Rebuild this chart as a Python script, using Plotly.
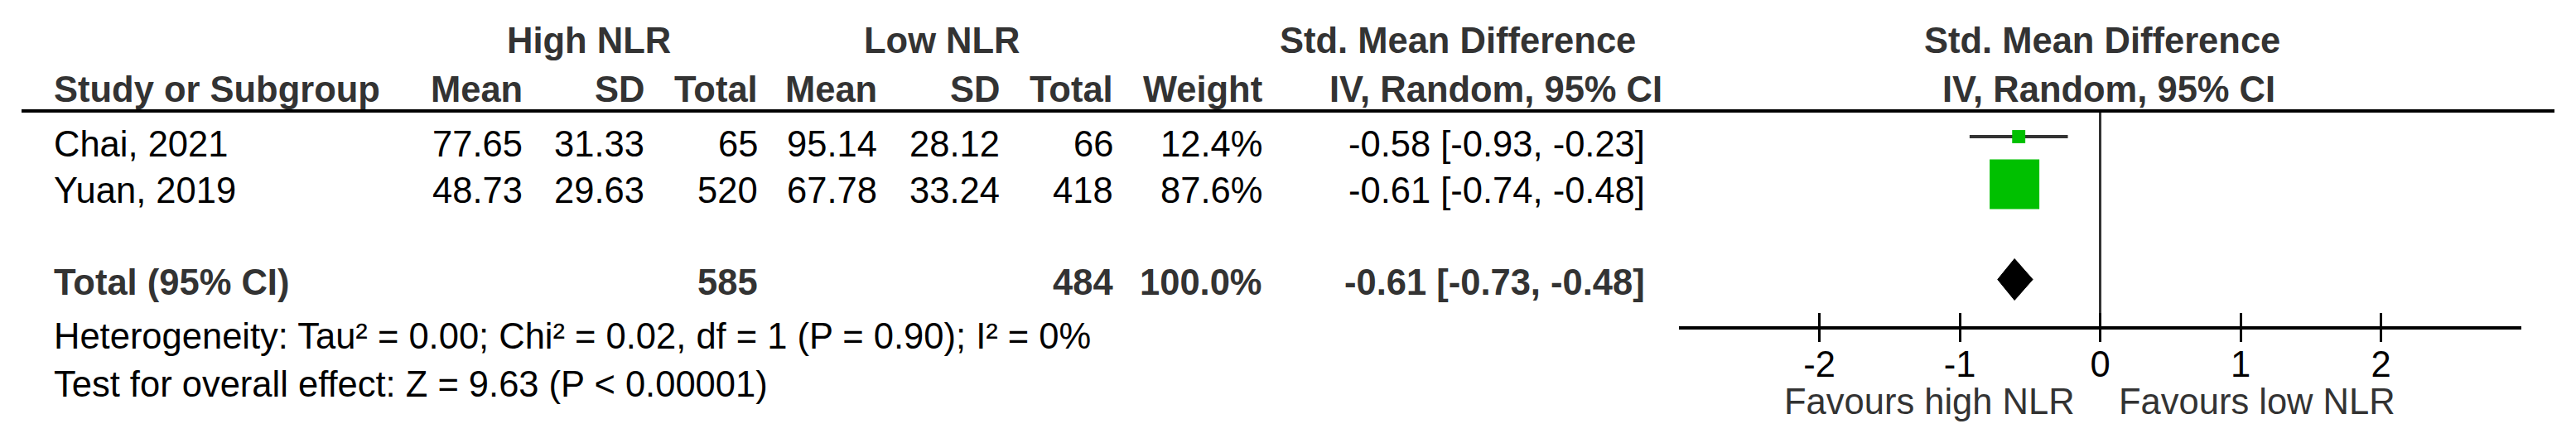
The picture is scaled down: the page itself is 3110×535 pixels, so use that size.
import plotly.graph_objects as go

# ---------------- data ----------------
studies = ["Chai, 2021", "Yuan, 2019"]
high_mean = [77.65, 48.73]
high_sd = [31.33, 29.63]
high_n = [65, 520]
low_mean = [95.14, 67.78]
low_sd = [28.12, 33.24]
low_n = [66, 418]
weights = [12.4, 87.6]
smd = [-0.58, -0.61]
ci_lo = [-0.93, -0.74]
ci_hi = [-0.23, -0.48]

total_high_n = 585
total_low_n = 484
total_weight = 100.0
total_smd = -0.61
total_lo = -0.73
total_hi = -0.48

heterogeneity_text = "Heterogeneity: Tau² = 0.00; Chi² = 0.02, df = 1 (P = 0.90); I² = 0%"
overall_text = "Test for overall effect: Z = 9.63 (P < 0.00001)"

tick_vals = [-2, -1, 0, 1, 2]
tick_labels = ["-2", "-1", "0", "1", "2"]
favours_labels = ["Favours high NLR", "Favours low NLR"]

# ---------------- layout constants ----------------
W, H = 3110, 535
FONT = "Liberation Sans, Arial, sans-serif"
FS = 43.5
GRAY = "#333333"
GREEN = "#00C000"

AX_L, AX_R = 2027, 3044      # forest plot x extent (px)
TOP, BOT = 134, 394          # header rule / axis line (px)
ROW1_PX, ROW_STEP = 165, 57.5
y_top = 1 - (ROW1_PX - TOP) / ROW_STEP
y_bot = 1 + (BOT - ROW1_PX) / ROW_STEP

study_rows = [1, 2]
total_row = 4

fig = go.Figure()

# CI lines
for i in range(len(studies)):
    fig.add_trace(go.Scatter(
        x=[ci_lo[i], ci_hi[i]], y=[study_rows[i]] * 2, mode="lines",
        line=dict(color=GRAY, width=4), hoverinfo="skip", showlegend=False))

# weighted squares
wmax = max(weights)
sizes = [60 * (w / wmax) ** 0.68 for w in weights]
fig.add_trace(go.Scatter(
    x=smd, y=study_rows, mode="markers",
    marker=dict(symbol="square", size=sizes, color=GREEN, opacity=1,
                line=dict(width=0)),
    hoverinfo="skip", showlegend=False))

# pooled diamond
hh = 25 / ROW_STEP
fig.add_trace(go.Scatter(
    x=[total_lo, total_smd, total_hi, total_smd, total_lo],
    y=[total_row, total_row - hh, total_row, total_row + hh, total_row],
    mode="lines", fill="toself", fillcolor="black",
    line=dict(color="black", width=1), hoverinfo="skip", showlegend=False))

# dummy trace for the inner tick axis
fig.add_trace(go.Scatter(x=tick_vals, y=[None] * len(tick_vals), xaxis="x2",
                         mode="markers", hoverinfo="skip", showlegend=False))

annotations = []


def txt(text, x, y, anchor="left", bold=False, color="black"):
    annotations.append(dict(
        text=f"<b>{text}</b>" if bold else text,
        x=x / W, y=1 - y / H, xref="paper", yref="paper",
        xanchor=anchor, yanchor="middle", showarrow=False,
        font=dict(family=FONT, size=FS, color=color)))


# header row 1
HY1, HY2 = 49, 108
txt("High NLR", 711, HY1, "center", True, GRAY)
txt("Low NLR", 1137, HY1, "center", True, GRAY)
txt("Std. Mean Difference", 1760, HY1, "center", True, GRAY)
txt("Std. Mean Difference", 2538, HY1, "center", True, GRAY)

# header row 2
col_right = [633, 780, 917, 1061, 1209, 1346, 1526]
txt("Study or Subgroup", 63, HY2, "left", True, GRAY)
for lab, xr in zip(["Mean", "SD", "Total", "Mean", "SD", "Total", "Weight"], col_right):
    txt(lab, xr, HY2, "right", True, GRAY)
txt("IV, Random, 95% CI", 1806, HY2, "center", True, GRAY)
txt("IV, Random, 95% CI", 2546, HY2, "center", True, GRAY)

# study rows
row_text_px = [174, 230]
CI_R = 1988
for i, s in enumerate(studies):
    yy = row_text_px[i]
    txt(s, 63, yy)
    vals = [f"{high_mean[i]:.2f}", f"{high_sd[i]:.2f}", f"{high_n[i]}",
            f"{low_mean[i]:.2f}", f"{low_sd[i]:.2f}", f"{low_n[i]}",
            f"{weights[i]:.1f}%"]
    for v, xr in zip(vals, col_right):
        txt(v, xr, yy, "right")
    txt(f"{smd[i]:.2f} [{ci_lo[i]:.2f}, {ci_hi[i]:.2f}]", CI_R, yy, "right")

# total row
TY = 341
txt("Total (95% CI)", 63, TY, "left", True, GRAY)
txt(f"{total_high_n}", col_right[2], TY, "right", True, GRAY)
txt(f"{total_low_n}", col_right[5], TY, "right", True, GRAY)
txt(f"{total_weight:.1f}%", col_right[6], TY, "right", True, GRAY)
txt(f"{total_smd:.2f} [{total_lo:.2f}, {total_hi:.2f}]", CI_R, TY, "right", True, GRAY)

# footer
txt(heterogeneity_text, 63, 406)
txt(overall_text, 63, 464)

# favours labels
txt(favours_labels[0], 2507, 485, "right", False, GRAY)
txt(favours_labels[1], 2556, 485, "left", False, GRAY)

shapes = [dict(type="line", xref="paper", yref="paper",
               x0=26 / W, x1=3084 / W, y0=1 - TOP / H, y1=1 - TOP / H,
               line=dict(color="black", width=4))]

dom_x = [AX_L / W, AX_R / W]
fig.update_layout(
    width=W, height=H,
    margin=dict(l=0, r=0, t=0, b=0),
    paper_bgcolor="white", plot_bgcolor="white",
    showlegend=False,
    annotations=annotations, shapes=shapes,
    xaxis=dict(domain=dom_x, range=[-3, 3], anchor="y",
               showgrid=False, zeroline=True, zerolinecolor=GRAY, zerolinewidth=3,
               showline=True, linecolor="black", linewidth=4,
               ticks="outside", ticklen=15, tickwidth=3, tickcolor="black",
               tickvals=tick_vals, ticktext=tick_labels, ticklabelstandoff=-10,
               tickfont=dict(family=FONT, size=FS, color="black")),
    xaxis2=dict(domain=dom_x, range=[-3, 3], anchor="y", overlaying="x",
                showgrid=False, zeroline=False, showline=False,
                ticks="inside", ticklen=16, tickwidth=3, tickcolor="black",
                tickvals=tick_vals, showticklabels=False),
    yaxis=dict(domain=[1 - BOT / H, 1 - TOP / H], range=[y_bot, y_top],
               showgrid=False, zeroline=False, showline=False,
               showticklabels=False, ticks=""),
)

fig.write_html("out.html", config={"displayModeBar": False},
               post_script="document.body.style.margin='0';document.body.style.overflow='hidden';")
